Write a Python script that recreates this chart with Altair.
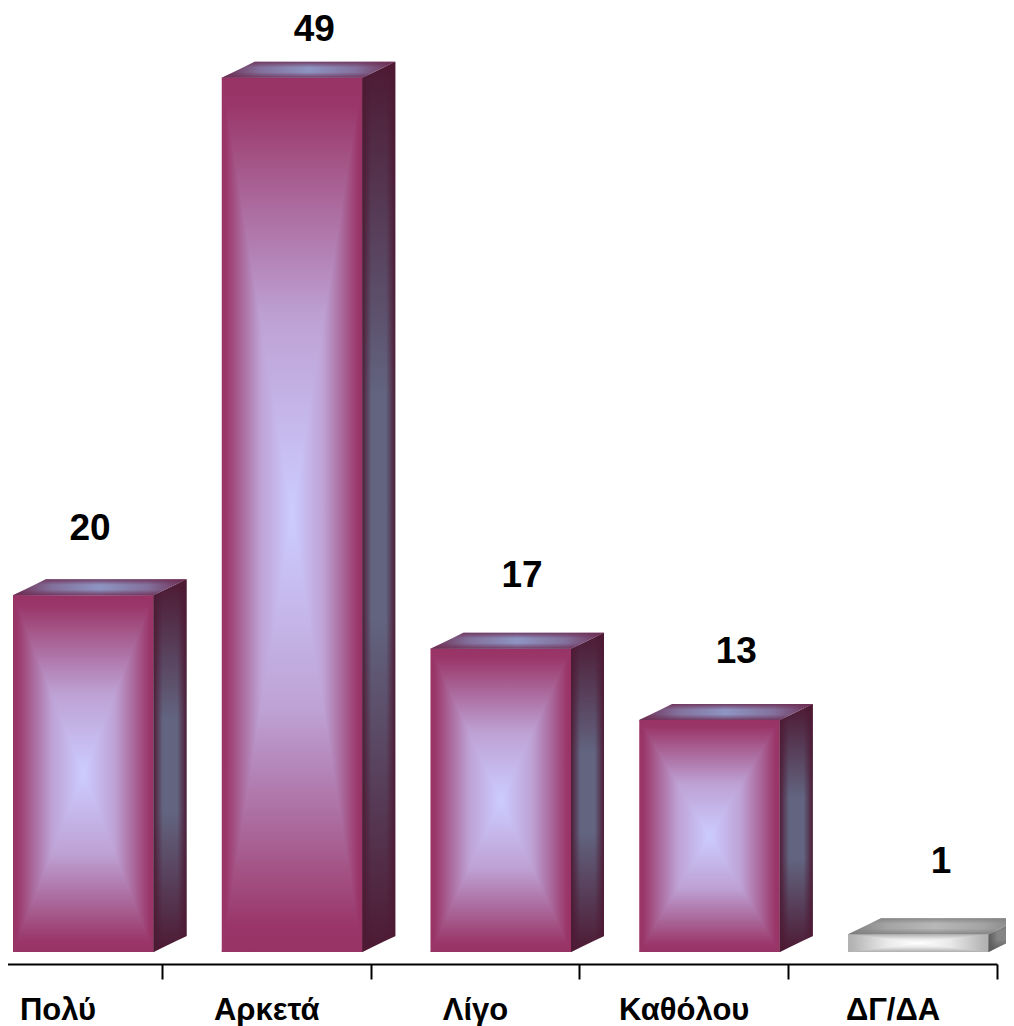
import altair as alt
import pandas as pd

# ---- values ----
categories = ["Πολύ", "Αρκετά", "Λίγο", "Καθόλου", "ΔΓ/ΔΑ"]
values = [20, 49, 17, 13, 1]
palette_of_bar = ["plum", "plum", "plum", "plum", "silver"]

# ---- layout constants (pixels of the final picture) ----
W, H = 998, 956
BAND = 208.75
PX_PER_UNIT = 17.84
BASE_PX = 12                # axis line below the bars' base
BAR_W = 140.5
BAR_LEFT = -44.5            # front face's left edge, from the band centre
DEPTH_X, DEPTH_Y = 33, 16
FIRST_CENTRE = 49.5         # first band centre, inside the svg
label_dx_px = [32.5, 48, 47, 52.5, 48.5]
label_gap_px = [66, 48, 73, 68, 72]

FONT = "Liberation Sans"

x_domain = [-FIRST_CENTRE / BAND, (W - FIRST_CENTRE) / BAND]
y_domain = [-BASE_PX / PX_PER_UNIT, (H - BASE_PX) / PX_PER_UNIT]

palettes = {
    "plum": {
        "front": ("#993366", "#CCCCFF"),
        "side": ("#4D1933", "#626480"),
        "top": ("#6E2F55", "#8E94C2"),
    },
    "silver": {
        "front": ("#B2B2B2", "#FFFFFF"),
        "side": ("#595959", "#858585"),
        "top": ("#808080", "#B8B8B8"),
    },
}
# profile: (position edge->centre, share of centre colour)
front_profile = [(0, 0), (0.06, 0.02), (0.25, 0.3), (0.55, 0.72), (1, 1)]
side_profile = [(0, 0), (0.75, 1), (1, 1)]
top_profile = [(0, 0), (0.45, 0.65), (1, 1)]
# overlays: (position, opacity of the edge colour)
side_edge = [(0, 0.95), (0.28, 0), (0.72, 0), (1, 0.95)]
top_edge = [(0, 0.85), (0.35, 0), (0.65, 0), (1, 0.85)]


def rgb(c):
    return [int(c[k:k + 2], 16) for k in (1, 3, 5)]


def mix(a, b, t):
    return "#" + "".join(f"{round(p + (q - p) * t):02X}" for p, q in zip(rgb(a), rgb(b)))


def mirrored(prof):
    return [(o / 2, t) for o, t in prof] + [(1 - o / 2, t) for o, t in reversed(prof[:-1])]


HORIZ = dict(x1=0, y1=0, x2=1, y2=0)
VERT = dict(x1=0, y1=0, x2=0, y2=1)
VERT_UP = dict(x1=0, y1=1, x2=0, y2=0)


def gradient_for(pal, face, kind):
    edge, mid = palettes[pal][face]
    if kind.endswith("edge"):
        table = side_edge if face == "side" else top_edge
        r, g, b = rgb(edge)
        stops = [alt.GradientStop(offset=o, color=f"rgba({r},{g},{b},{a})") for o, a in table]
        return stops, (HORIZ if face == "side" else VERT)
    if face == "front":
        if kind == "h":
            pairs, d = mirrored(front_profile), HORIZ
        else:
            pairs, d = front_profile, (VERT if kind == "n" else VERT_UP)
    elif face == "side":
        pairs, d = mirrored(side_profile), VERT
    else:
        pairs, d = mirrored(top_profile), HORIZ
    return [alt.GradientStop(offset=o, color=mix(edge, mid, t)) for o, t in pairs], d


def tri_rows(p, q, r, gid):
    """A triangle as area rows: one row per distinct x, with its y span."""
    (x0, y0), (x1, y1), (x2, y2) = sorted([p, q, r])
    if x0 == x1:
        return [dict(x=x0, y=y0, y2=y1, gid=gid), dict(x=x2, y=y2, y2=y2, gid=gid)]
    if x1 == x2:
        return [dict(x=x0, y=y0, y2=y0, gid=gid), dict(x=x1, y=y1, y2=y2, gid=gid)]
    mid = y0 + (y2 - y0) * (x1 - x0) / (x2 - x0)
    return [
        dict(x=x0, y=y0, y2=y0, gid=gid),
        dict(x=x1, y=y1, y2=mid, gid=gid),
        dict(x=x2, y=y2, y2=y2, gid=gid),
    ]


rows = {}


def add(pal, face, kind, recs):
    rows.setdefault((pal, face, kind), []).extend(recs)


dx = DEPTH_X / BAND
dy = DEPTH_Y / PX_PER_UNIT
for i, (v, pal) in enumerate(zip(values, palette_of_bar)):
    xl = i + BAR_LEFT / BAND
    xr = xl + BAR_W / BAND
    # front: a full horizontal sweep, then the n/s triangles over it
    m = ((xl + xr) / 2, v / 2)
    add(pal, "front", "h", [dict(x=xl, y=v, y2=0.0, gid=f"f{i}"), dict(x=xr, y=v, y2=0.0, gid=f"f{i}")])
    add(pal, "front", "n", tri_rows((xl, v), (xr, v), m, f"f{i}n"))
    add(pal, "front", "s", tri_rows((xl, 0.0), (xr, 0.0), m, f"f{i}s"))
    # side: vertical sweep with darkened edges over it
    side = [dict(x=xr, y=v, y2=0.0, gid=f"s{i}"), dict(x=xr + dx, y=v + dy, y2=dy, gid=f"s{i}")]
    add(pal, "side", "base", side)
    add(pal, "side", "edge", side)
    # top: horizontal sweep with darkened front and back edges over it
    top = [
        dict(x=xl, y=v, y2=v, gid=f"t{i}"),
        dict(x=xl + dx, y=v + dy, y2=v, gid=f"t{i}"),
        dict(x=xr, y=v + dy, y2=v, gid=f"t{i}"),
        dict(x=xr + dx, y=v + dy, y2=v + dy, gid=f"t{i}"),
    ]
    add(pal, "top", "base", top)
    add(pal, "top", "edge", top)

x_scale = alt.Scale(domain=x_domain, nice=False, zero=False)
y_scale = alt.Scale(domain=y_domain, nice=False, zero=False)

# the axis: a band scale whose ticks sit on the band edges
axis_df = pd.DataFrame({"cat": categories, "v": values})
axis_layer = alt.Chart(axis_df).mark_rule(opacity=0).encode(
    x=alt.X(
        "cat:N",
        sort=None,
        title=None,
        scale=alt.Scale(
            domain=categories,
            range=[FIRST_CENTRE - BAND / 2, FIRST_CENTRE - BAND / 2 + BAND * 5],
            paddingInner=0,
            paddingOuter=0,
        ),
        axis=alt.Axis(
            tickBand="extent",
            labelAngle=0,
            labelFont=FONT,
            labelFontSize=31,
            labelFontWeight="bold",
            labelColor="#000000",
            labelPadding=31,
            labelBaseline="middle",
            labelOverlap=False,
            labelFlush=False,
            domainColor="#000000",
            domainWidth=2,
            tickColor="#000000",
            tickWidth=2,
            tickSize=15,
            grid=False,
        ),
    ),
    y=alt.Y("v:Q", scale=y_scale, axis=None),
)

order = {"h": 0, "base": 0, "n": 1, "s": 1, "edge": 2}
layers = [axis_layer]
for key in sorted(rows, key=lambda k: (k[0], k[1], order[k[2]])):
    pal, face, kind = key
    stops, direction = gradient_for(pal, face, kind)
    grad = alt.LinearGradient(gradient="linear", stops=stops, **direction)
    layers.append(
        alt.Chart(pd.DataFrame(rows[key]))
        .mark_area(fill=grad, interpolate="linear")
        .encode(
            x=alt.X("x:Q", scale=x_scale, axis=None),
            y=alt.Y("y:Q", scale=y_scale, axis=None, stack=None),
            y2="y2:Q",
            detail="gid:N",
        )
    )

label_df = pd.DataFrame(
    {
        "x": [i + d / BAND for i, d in enumerate(label_dx_px)],
        "y": [v + g / PX_PER_UNIT for v, g in zip(values, label_gap_px)],
        "v": values,
    }
)
layers.append(
    alt.Chart(label_df)
    .mark_text(font=FONT, fontSize=37, fontWeight="bold", color="#000000", baseline="middle", align="center")
    .encode(
        x=alt.X("x:Q", scale=x_scale, axis=None),
        y=alt.Y("y:Q", scale=y_scale, axis=None),
        text="v:Q",
    )
)

chart = (
    alt.layer(*layers)
    .resolve_scale(x="independent")
    .properties(
        width=W,
        height=H,
        padding={"left": 0, "top": 0, "right": 0, "bottom": 62},
        autosize=alt.AutoSizeParams(type="none"),
    )
    .configure_view(stroke=None)
)

chart.save("out.html", embed_options={"renderer": "svg", "actions": False})
